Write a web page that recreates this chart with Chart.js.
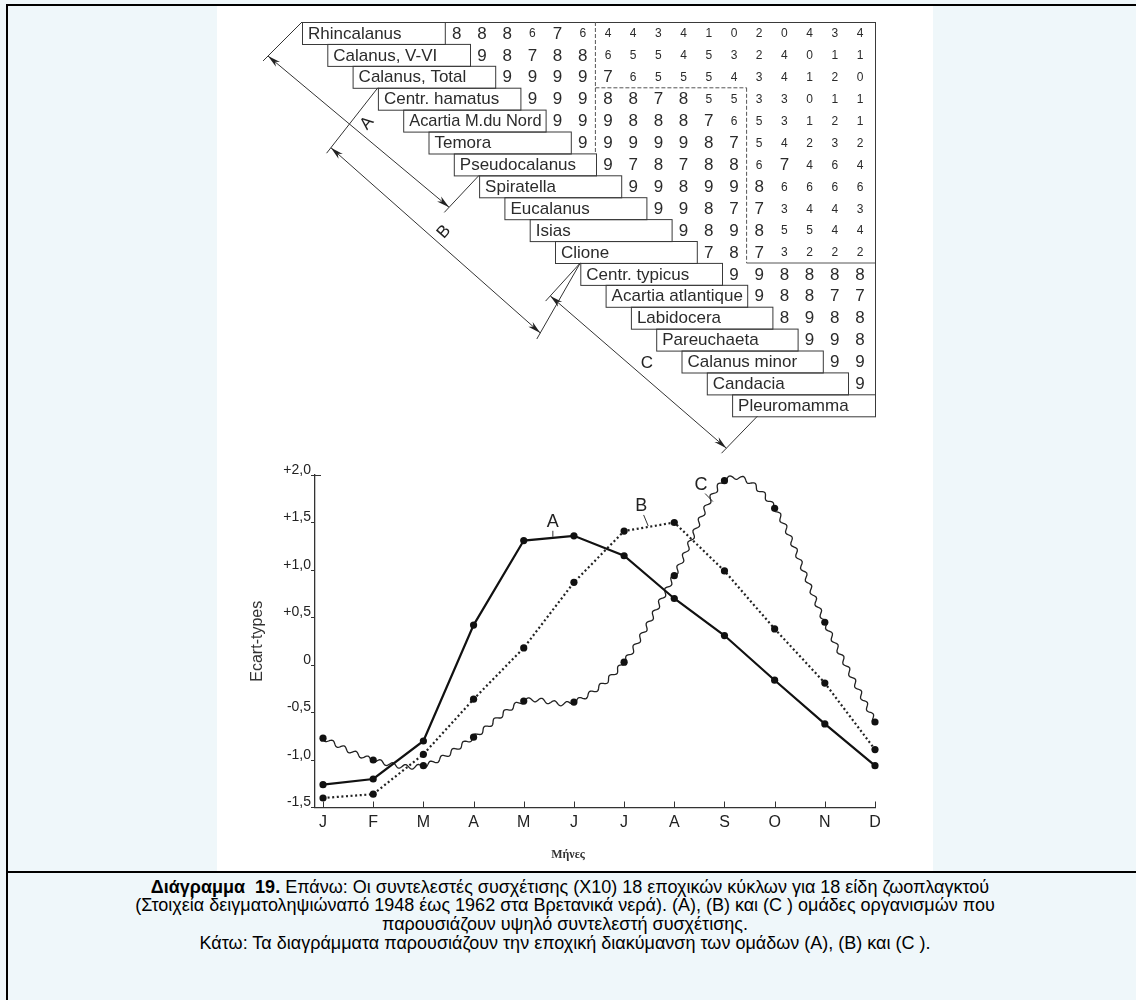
<!DOCTYPE html>
<html>
<head>
<meta charset="utf-8">
<title>Διάγραμμα 19</title>
<script src="https://cdn.jsdelivr.net/npm/chart.js@4.4.0/dist/chart.umd.min.js"></script>
<style>
  html, body { margin: 0; padding: 0; }
  body { width: 1136px; height: 1000px; background: #eff7fa; position: relative; overflow: hidden;
         font-family: "Liberation Sans", Arial, sans-serif; }
  #frame { position: absolute; left: 6px; top: 4px; width: 1140px; height: 1000px;
           border-left: 2px solid #000; border-top: 2px solid #000; }
  #sheet { position: absolute; left: 217px; top: 6px; width: 716px; height: 865px; background: #fff; }
  #sheet canvas { display: block; }
  #rule { position: absolute; left: 6px; top: 871px; width: 1140px; height: 2px; background: #000; }
  #caption { position: absolute; left: 0px; top: 877.5px; width: 1130px; text-align: center;
             font-size: 18px; line-height: 18.7px; color: #000; }
</style>
</head>
<body>
<div id="frame"></div>
<div id="sheet"><canvas id="chart" width="716" height="865"></canvas></div>
<div id="rule"></div>
<div id="caption">&nbsp;&nbsp;<b>Διάγραμμα&nbsp; 19.</b> Επάνω: Οι συντελεστές συσχέτισης (Χ10) 18 εποχικών κύκλων για 18 είδη ζωοπλαγκτού<br>(Στοιχεία δειγματοληψιώναπό 1948 έως 1962 στα Βρετανικά νερά). (A), (B) και (C ) ομάδες οργανισμών που<br>παρουσιάζουν υψηλό συντελεστή συσχέτισης.<br>Κάτω: Τα διαγράμματα παρουσιάζουν την εποχική διακύμανση των ομάδων (A), (B) και (C ).</div>

<script>
// Months of the year (x axis)
const months = ['J', 'F', 'M', 'A', 'M', 'J', 'J', 'A', 'S', 'O', 'N', 'D'];

// Seasonal variation of each group, in standard deviations
const groupA = [-1.26, -1.20, -0.80, 0.42, 1.31, 1.36, 1.15, 0.70, 0.31, -0.16, -0.62, -1.06];
const groupB = [-1.40, -1.36, -0.94, -0.36, 0.18, 0.87, 1.41, 1.50, 0.99, 0.38, -0.19, -0.89];
const groupC = [-0.77, -1.00, -1.06, -0.76, -0.38, -0.39, 0.03, 0.94, 1.94, 1.65, 0.45, -0.60];

// y axis ticks
const yTickValues = [2, 1.5, 1, 0.5, 0, -0.5, -1, -1.5];
const yTickLabels = ['+2,0', '+1,5', '+1,0', '+0,5', '0', '-0,5', '-1,0', '-1,5'];

// Species of the correlation table
const speciesNames = [
  'Rhincalanus', 'Calanus, V-VI', 'Calanus, Total', 'Centr. hamatus', 'Acartia M.du Nord',
  'Temora', 'Pseudocalanus', 'Spiratella', 'Eucalanus', 'Isias', 'Clione',
  'Centr. typicus', 'Acartia atlantique', 'Labidocera', 'Pareuchaeta', 'Calanus minor',
  'Candacia', 'Pleuromamma'
];

// Correlation coefficients (x10): row i lists the values against species i+1 … 18
const correlationRows = [
  [8, 8, 8, 6, 7, 6, 4, 4, 3, 4, 1, 0, 2, 0, 4, 3, 4],
  [9, 8, 7, 8, 8, 6, 5, 5, 4, 5, 3, 2, 4, 0, 1, 1],
  [9, 9, 9, 9, 7, 6, 5, 5, 5, 4, 3, 4, 1, 2, 0],
  [9, 9, 9, 8, 8, 7, 8, 5, 5, 3, 3, 0, 1, 1],
  [9, 9, 9, 8, 8, 8, 7, 6, 5, 3, 1, 2, 1],
  [9, 9, 9, 9, 9, 8, 7, 5, 4, 2, 3, 2],
  [9, 7, 8, 7, 8, 8, 6, 7, 4, 6, 4],
  [9, 9, 8, 9, 9, 8, 6, 6, 6, 6],
  [9, 9, 8, 7, 7, 3, 4, 4, 3],
  [9, 8, 9, 8, 5, 5, 4, 4],
  [7, 8, 7, 3, 2, 2, 2],
  [9, 9, 8, 8, 8, 8],
  [9, 8, 8, 7, 7],
  [8, 9, 8, 8],
  [9, 9, 8],
  [9, 9],
  [9],
  []
];

// Groups of species (first row, last row, 1-based)
const groupLabels = ['A', 'B', 'C'];
const groupFirstRow = [1, 4, 12];
const groupLastRow = [7, 11, 18];

// ---------- drawing helpers ----------
const INK = '#2b2b2b';
const TABLE = {
  colRight: 643, colStep: 25.2,     // x of the column for species 18, spacing
  rowTop: 27, rowStep: 21.9,        // y of row 1 centre, spacing
  boxLeft0: 85, boxStep: 25.3,      // left edge of name box of row 1, stagger
  half: 11, right: 658
};
const colX = k => TABLE.colRight - (18 - k) * TABLE.colStep;
const rowY = i => TABLE.rowTop + (i - 1) * TABLE.rowStep;
const boxLeft = i => TABLE.boxLeft0 + (i - 1) * TABLE.boxStep;
const boxRight = i => (i >= 18 ? TABLE.right : colX(i + 1) - 12);

function line(ctx, x1, y1, x2, y2) {
  ctx.beginPath(); ctx.moveTo(x1, y1); ctx.lineTo(x2, y2); ctx.stroke();
}
function arrowHead(ctx, tx, ty, fx, fy) {
  const a = Math.atan2(ty - fy, tx - fx);
  const L = 13, W = 3.2;
  ctx.beginPath();
  ctx.moveTo(tx, ty);
  ctx.lineTo(tx - L * Math.cos(a) + W * Math.sin(a), ty - L * Math.sin(a) - W * Math.cos(a));
  ctx.lineTo(tx - L * 0.7 * Math.cos(a), ty - L * 0.7 * Math.sin(a));
  ctx.lineTo(tx - L * Math.cos(a) - W * Math.sin(a), ty - L * Math.sin(a) + W * Math.cos(a));
  ctx.closePath();
  ctx.fill();
}

// Staircase correlation table with its group arrows
const tablePlugin = {
  id: 'speciesTable',
  afterDraw(chart) {
    const ctx = chart.ctx;
    ctx.save();
    ctx.strokeStyle = '#3a3a3a';
    ctx.fillStyle = INK;
    ctx.lineWidth = 1;

    // name boxes
    speciesNames.forEach((name, idx) => {
      const i = idx + 1;
      const l = boxLeft(i), r = boxRight(i), t = rowY(i) - TABLE.half, b = rowY(i) + TABLE.half;
      ctx.strokeRect(l + 0.5, t + 0.5, r - l, b - t);
      ctx.font = '17px "Liberation Sans", Arial, sans-serif';
      ctx.textAlign = 'left';
      ctx.textBaseline = 'middle';
      ctx.fillText(name, l + 6, rowY(i) + 1, r - l - 10);
    });

    // outer border of the value area
    line(ctx, boxRight(1), rowY(1) - TABLE.half + 0.5, TABLE.right + 0.5, rowY(1) - TABLE.half + 0.5);
    line(ctx, TABLE.right + 0.5, rowY(1) - TABLE.half, TABLE.right + 0.5, rowY(18) + TABLE.half);

    // coefficients
    ctx.textAlign = 'center';
    ctx.textBaseline = 'middle';
    correlationRows.forEach((vals, idx) => {
      const i = idx + 1;
      vals.forEach((v, j) => {
        const k = i + 1 + j;
        ctx.font = (v >= 7 ? '17px' : '12px') + ' "Liberation Sans", Arial, sans-serif';
        ctx.fillText(String(v), colX(k), rowY(i) + 1);
      });
    });

    // dashed outlines of the high-correlation blocks
    ctx.setLineDash([4, 2]);
    ctx.strokeStyle = '#555';
    const xAB = (colX(7) + colX(8)) / 2, xBC = (colX(13) + colX(14)) / 2;
    line(ctx, xAB, rowY(1) - TABLE.half, xAB, rowY(6) + TABLE.half);
    line(ctx, xAB, rowY(3) + TABLE.half, xBC, rowY(3) + TABLE.half);
    line(ctx, xBC, rowY(3) + TABLE.half, xBC, rowY(11) + TABLE.half);
    ctx.setLineDash([]);
    line(ctx, xBC, rowY(11) + TABLE.half, TABLE.right, rowY(11) + TABLE.half);

    // group arrows
    ctx.strokeStyle = '#333';
    ctx.fillStyle = '#222';
    const tipOffsets = [[[-34, 34], [-30, 32]], [[-47, 60], [-40, 70]], [[-30, 33], [-31, 32]]];
    groupLabels.forEach((g, n) => {
      const f = groupFirstRow[n], e = groupLastRow[n] + 1;
      const a1 = [boxLeft(f), rowY(f) - TABLE.half];
      const a2 = [boxLeft(e), rowY(e) - TABLE.half];
      const t1 = [a1[0] + tipOffsets[n][0][0], a1[1] + tipOffsets[n][0][1]];
      const t2 = [a2[0] + tipOffsets[n][1][0], a2[1] + tipOffsets[n][1][1]];
      // extension lines
      [[a1, t1], [a2, t2]].forEach(([a, t]) => {
        const dx = t[0] - a[0], dy = t[1] - a[1], d = Math.hypot(dx, dy);
        line(ctx, a[0], a[1], t[0] + dx / d * 7, t[1] + dy / d * 7);
      });
      // dimension line with two heads
      line(ctx, t1[0], t1[1], t2[0], t2[1]);
      arrowHead(ctx, t1[0], t1[1], t2[0], t2[1]);
      arrowHead(ctx, t2[0], t2[1], t1[0], t1[1]);
      // label
      const mx = (t1[0] + t2[0]) / 2 + 8.5, my = (t1[1] + t2[1]) / 2 - 8.5;
      const ang = Math.atan2(t2[1] - t1[1], t2[0] - t1[0]);
      ctx.save();
      ctx.translate(mx, my);
      ctx.rotate(g === 'C' ? 0 : ang - Math.PI / 2);
      ctx.font = '17px "Liberation Sans", Arial, sans-serif';
      ctx.textAlign = 'center';
      ctx.textBaseline = 'middle';
      ctx.fillText(g, 0, 0);
      ctx.restore();
    });
    ctx.restore();
  }
};

// Wavy trace for group C, drawn under its points
const waveLinePlugin = {
  id: 'waveLine',
  beforeDatasetDraw(chart, args) {
    if (args.index !== 2) return;
    const pts = chart.getDatasetMeta(2).data.map(p => ({ x: p.x, y: p.y }));
    const ctx = chart.ctx;
    const amp = 2.1, wave = 13, t = 0.16;
    ctx.save();
    ctx.strokeStyle = '#222';
    ctx.lineWidth = 1.3;
    ctx.beginPath();
    let s = 0, first = true;
    for (let i = 0; i < pts.length - 1; i++) {
      const p0 = pts[i - 1] || pts[i], p1 = pts[i], p2 = pts[i + 1], p3 = pts[i + 2] || pts[i + 1];
      const c1 = { x: p1.x + (p2.x - p0.x) * t, y: p1.y + (p2.y - p0.y) * t };
      const c2 = { x: p2.x - (p3.x - p1.x) * t, y: p2.y - (p3.y - p1.y) * t };
      let prev = null;
      const N = 80;
      for (let k = 0; k <= N; k++) {
        const u = k / N, v = 1 - u;
        const x = v*v*v*p1.x + 3*v*v*u*c1.x + 3*v*u*u*c2.x + u*u*u*p2.x;
        const y = v*v*v*p1.y + 3*v*v*u*c1.y + 3*v*u*u*c2.y + u*u*u*p2.y;
        const dx = 3*v*v*(c1.x - p1.x) + 6*v*u*(c2.x - c1.x) + 3*u*u*(p2.x - c2.x);
        const dy = 3*v*v*(c1.y - p1.y) + 6*v*u*(c2.y - c1.y) + 3*u*u*(p2.y - c2.y);
        const d = Math.hypot(dx, dy) || 1;
        if (prev) s += Math.hypot(x - prev.x, y - prev.y);
        prev = { x, y };
        const off = amp * Math.sin(2 * Math.PI * s / wave);
        const ox = x - dy / d * off, oy = y + dx / d * off;
        if (first) { ctx.moveTo(ox, oy); first = false; } else ctx.lineTo(ox, oy);
      }
    }
    ctx.stroke();
    ctx.restore();
  }
};

// Inner tick marks, group names on the curves, x title
const axisDecorPlugin = {
  id: 'axisDecor',
  afterDraw(chart) {
    const { ctx, scales: { x, y } } = chart;
    ctx.save();
    ctx.strokeStyle = '#333';
    ctx.lineWidth = 1;
    months.forEach((m, i) => {
      const px = Math.round(x.getPixelForValue(i)) + 0.5;
      line(ctx, px, y.bottom, px, y.bottom - 6);
    });
    line(ctx, x.left, y.top + 0.5, x.left + 6, y.top + 0.5);

    // names of the curves
    const series = [groupA, groupB, groupC];
    const at = [4.58, 6.48, 7.77];
    const shift = [[0, -16], [-7, -21], [-12, -18]];
    ctx.fillStyle = '#222';
    ctx.font = '18px "Liberation Sans", Arial, sans-serif';
    ctx.textAlign = 'center';
    ctx.textBaseline = 'middle';
    groupLabels.forEach((g, n) => {
      const xv = at[n], i0 = Math.floor(xv), f = xv - i0;
      const val = series[n][i0] * (1 - f) + series[n][i0 + 1] * f;
      const px = x.getPixelForValue(xv), py = y.getPixelForValue(val);
      const lx = px + shift[n][0], ly = py + shift[n][1];
      line(ctx, px, py - 1, lx + (px - lx) * 0.35, ly + 9);
      ctx.fillText(g, lx, ly);
    });

    ctx.font = 'bold 12px "Liberation Serif", "Times New Roman", serif';
    ctx.fillStyle = '#333';
    ctx.fillText('Μήνες', 351, 849);
    ctx.restore();
  }
};

const points = arr => months.map((m, i) => ({ x: i, y: arr[i] }));

new Chart(document.getElementById('chart'), {
  type: 'line',
  data: {
    datasets: [
      { label: 'A', data: points(groupA), borderColor: '#111', borderWidth: 2.2,
        pointRadius: 3.6, pointBackgroundColor: '#111', pointBorderWidth: 0, tension: 0, clip: false },
      { label: 'B', data: points(groupB), borderColor: '#222', borderWidth: 2.2, borderDash: [2, 2.6],
        pointRadius: 3.6, pointBackgroundColor: '#111', pointBorderWidth: 0, tension: 0, clip: false },
      { label: 'C', data: points(groupC), showLine: false, borderColor: '#222',
        pointRadius: 3.6, pointBackgroundColor: '#111', pointBorderWidth: 0, clip: false }
    ]
  },
  options: {
    responsive: false,
    animation: false,
    devicePixelRatio: 1,
    layout: { padding: { top: 469, right: 58, bottom: 23.5, left: 0 } },
    plugins: { legend: { display: false }, tooltip: { enabled: false } },
    scales: {
      x: {
        type: 'linear', min: -0.16, max: 11,
        afterBuildTicks(s) { s.ticks = months.map((m, i) => ({ value: i })); },
        afterFit(s) { s.height = 40; },
        ticks: { callback: (v, i) => months[i], color: '#222', padding: 5, maxRotation: 0, autoSkip: false,
                 font: { family: '"Liberation Sans", Arial, sans-serif', size: 16 } },
        grid: { display: true, drawOnChartArea: false, drawTicks: false },
        border: { display: true, color: '#333', width: 1.3 }
      },
      y: {
        min: -1.5, max: 2,
        afterBuildTicks(s) { s.ticks = yTickValues.map(v => ({ value: v })); },
        afterFit(s) { s.width = 98; },
        ticks: { callback: (v, i) => yTickLabels[i], color: '#222', padding: 0, labelOffset: -5,
                 font: { family: '"Liberation Sans", Arial, sans-serif', size: 14 } },
        grid: { drawOnChartArea: false, drawTicks: true, tickLength: 4, color: '#333' },
        border: { display: true, color: '#333', width: 1.3 },
        title: { display: true, text: 'Ecart-types', color: '#333', padding: { top: 31, bottom: 0 },
                 font: { family: '"Liberation Sans", Arial, sans-serif', size: 16 } }
      }
    }
  },
  plugins: [tablePlugin, waveLinePlugin, axisDecorPlugin]
});
</script>
</body>
</html>
